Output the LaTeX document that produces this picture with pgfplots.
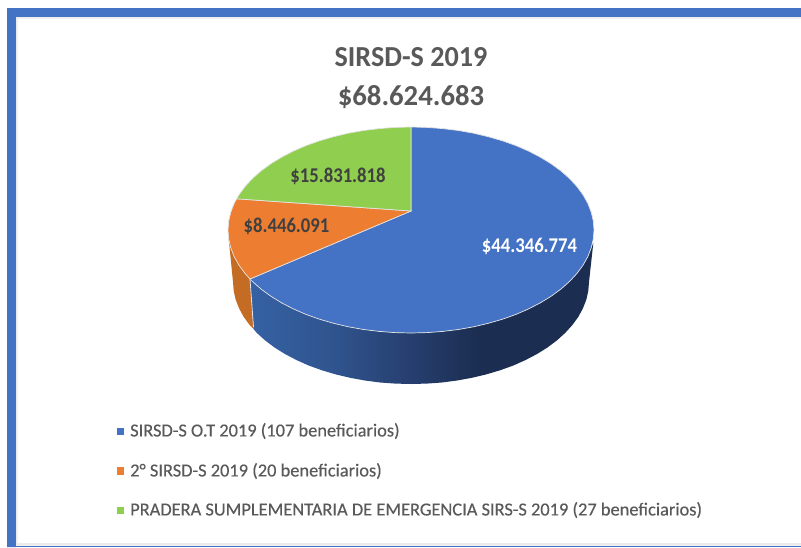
\documentclass[border=0pt]{standalone}
\usepackage{pgfplots}
\pgfplotsset{compat=1.18}
\usepackage{fontspec}
\setmainfont{Carlito}
\newfontfamily\legfont[FakeBold=0.25]{Carlito}
\definecolor{cblue}{HTML}{4472C4}
\definecolor{corange}{HTML}{ED7D31}
\definecolor{cgreen}{HTML}{8FCE4E}
\definecolor{cside}{HTML}{C46B24}
\definecolor{ctext}{HTML}{595959}
\definecolor{cdark}{HTML}{404040}
\definecolor{rim}{HTML}{E4E4E4}
\definecolor{cs1}{HTML}{3561A3}
\definecolor{cs2}{HTML}{30558F}
\definecolor{cs3}{HTML}{263F6F}
\definecolor{cs4}{HTML}{1B2D50}
\pgfdeclarehorizontalshading{sideblue}{100bp}{color(0bp)=(cs1); color(25bp)=(cs1); color(36.7bp)=(cs2); color(48.3bp)=(cs3); color(58.5bp)=(cs4); color(100bp)=(cs4)}
\begin{document}
\begin{tikzpicture}
\begin{axis}[
  scale only axis, width=801pt, height=547pt,
  xmin=0, xmax=801, ymin=0, ymax=547, y dir=reverse,
  hide axis, clip=true,
]
% background and frame
\addplot[fill=white, draw=none] coordinates {(0,0)(801,0)(801,547)(0,547)} -- cycle;
\addplot[fill=cblue, draw=none] coordinates {(7,8)(801,8)(801,17)(16,17)(16,547)(7,547)} -- cycle;
\addplot[fill=cblue, draw=none] coordinates {(16,545.5)(801,545.5)(801,547)(16,547)} -- cycle;
\addplot[fill=black!8, draw=none] coordinates {(16,17)(801,17)(801,18.5)(17.5,18.5)(17.5,543)(801,543)(801,545.5)(16,545.5)} -- cycle;
% orange side
\addplot[fill=cside, draw=none] coordinates {(228.7,239)(230.8,247.9)(234.2,256.7)(239,265.2)(245.1,273.5)(250,279)(253.5,329)(249.7,325.1)(243.7,316.9)(239.1,308.4)(235.7,299.7)(233.7,290.9)(233,282)} -- cycle;
% blue side
\addplot[shading=sideblue, draw=none] coordinates {(250,279)(252.5,281.5)(261.1,289.1)(270.8,296.2)(281.6,302.8)(293.4,308.9)(306,314.4)(319.5,319.2)(333.7,323.3)(348.4,326.8)(363.6,329.5)(379.2,331.4)(395,332.6)(411,333)(427,332.6)(442.8,331.4)(458.4,329.5)(473.6,326.8)(488.3,323.3)(502.5,319.2)(516,314.4)(528.6,308.9)(540.4,302.8)(551.2,296.2)(560.9,289.1)(569.5,281.5)(576.9,273.5)(583,265.2)(587.8,256.7)(591.2,247.9)(593.3,243)(589,282)(588.3,290.9)(586.3,299.7)(582.9,308.4)(578.3,316.9)(572.3,325.1)(565.1,333)(556.8,340.5)(547.3,347.6)(536.9,354.1)(525.4,360.1)(513.1,365.6)(500,370.3)(486.2,374.4)(471.9,377.8)(457.1,380.5)(441.9,382.5)(426.5,383.6)(411,384)(395.5,383.6)(380.1,382.5)(364.9,380.5)(350.1,377.8)(335.8,374.4)(322,370.3)(308.9,365.6)(296.6,360.1)(285.1,354.1)(274.7,347.6)(265.2,340.5)(256.9,333)(253.5,329)} -- cycle;
\addplot[rim, line width=0.8pt] coordinates {(250,279)(253.5,327)};
% top: blue slice
\addplot[fill=cblue, draw=rim, line width=0.7pt] coordinates {(411,211)(411,127)(427,127.4)(442.8,128.6)(458.4,130.5)(473.6,133.2)(488.3,136.7)(502.5,140.8)(516,145.6)(528.6,151.1)(540.4,157.2)(551.2,163.8)(560.9,170.9)(569.5,178.5)(576.9,186.5)(583,194.8)(587.8,203.3)(591.2,212.1)(593.3,221)(594,230)(593.3,239)(591.2,247.9)(587.8,256.7)(583,265.2)(576.9,273.5)(569.5,281.5)(560.9,289.1)(551.2,296.2)(540.4,302.8)(528.6,308.9)(516,314.4)(502.5,319.2)(488.3,323.3)(473.6,326.8)(458.4,329.5)(442.8,331.4)(427,332.6)(411,333)(395,332.6)(379.2,331.4)(363.6,329.5)(348.4,326.8)(333.7,323.3)(319.5,319.2)(306,314.4)(293.4,308.9)(281.6,302.8)(270.8,296.2)(261.1,289.1)(252.5,281.5)(250,279)} -- cycle;
% top: orange slice
\addplot[fill=corange, draw=rim, line width=0.7pt] coordinates {(411,211)(250,279)(245.1,273.5)(239,265.2)(234.2,256.7)(230.8,247.9)(228.7,239)(228,230)(228.7,221)(230.8,212.1)(234.2,203.3)(236.7,198.8)} -- cycle;
% top: green slice
\addplot[fill=cgreen, draw=rim, line width=0.7pt] coordinates {(411,211)(236.7,198.8)(239,194.8)(245.1,186.5)(252.5,178.5)(261.1,170.9)(270.8,163.8)(281.6,157.2)(293.4,151.1)(306,145.6)(319.5,140.8)(333.7,136.7)(348.4,133.2)(363.6,130.5)(379.2,128.6)(395,127.4)(411,127)} -- cycle;
% legend keys
\addplot[fill=cblue, draw=none] coordinates {(117,428)(124,428)(124,435)(117,435)} -- cycle;
\addplot[fill=corange, draw=none] coordinates {(117,467)(124,467)(124,475)(117,475)} -- cycle;
\addplot[fill=cgreen, draw=none] coordinates {(117,507)(124,507)(124,514)(117,514)} -- cycle;
% titles
\node[text=ctext, font=\fontsize{29}{29}\selectfont\bfseries, anchor=center, xscale=0.97] at (axis cs:411,57) {SIRSD-S 2019};
\node[text=ctext, font=\fontsize{29}{29}\selectfont\bfseries, anchor=center, xscale=0.99] at (axis cs:411,97) {\$68.624.683};
% data labels
\node[text=white, font=\fontsize{21}{21}\selectfont\bfseries, anchor=center, xscale=0.89] at (axis cs:529.5,246) {\$44.346.774};
\node[text=cdark, font=\fontsize{21}{21}\selectfont\bfseries, anchor=center, xscale=0.89] at (axis cs:338,176) {\$15.831.818};
\node[text=cdark, font=\fontsize{21}{21}\selectfont\bfseries, anchor=center, xscale=0.89] at (axis cs:286.5,226) {\$8.446.091};
% legend text
\node[text=ctext, font=\legfont\fontsize{18.4}{18.4}\selectfont, anchor=west, inner sep=0pt] at (axis cs:130,431) {SIRSD-S O.T 2019 (107 beneficiarios)};
\node[text=ctext, font=\legfont\fontsize{18.4}{18.4}\selectfont, anchor=west, inner sep=0pt] at (axis cs:130,471) {2° SIRSD-S 2019 (20 beneficiarios)};
\node[text=ctext, font=\legfont\fontsize{18.4}{18.4}\selectfont, anchor=west, inner sep=0pt] at (axis cs:130,510) {PRADERA SUMPLEMENTARIA DE EMERGENCIA SIRS-S 2019 (27 beneficiarios)};
\end{axis}
\end{tikzpicture}
\end{document}
